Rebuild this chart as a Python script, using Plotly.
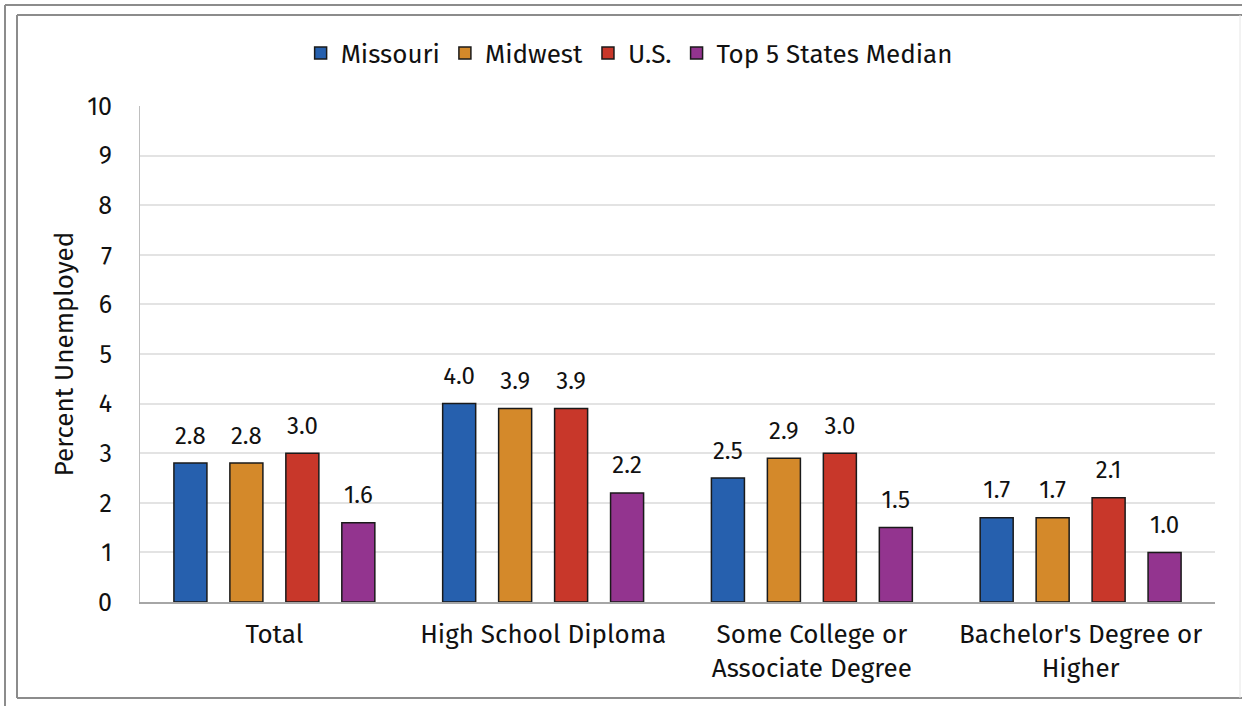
import plotly.graph_objects as go

categories = ["Total", "High School Diploma", "Some College or<br>Associate Degree", "Bachelor's Degree or<br>Higher"]
series_names = ["Missouri", "Midwest", "U.S.", "Top 5 States Median"]
missouri = [2.8, 4.0, 2.5, 1.7]
midwest = [2.8, 3.9, 2.9, 1.7]
us = [3.0, 3.9, 3.0, 2.1]
top5 = [1.6, 2.2, 1.5, 1.0]
colors = ["#2660AE", "#D4892A", "#C8372A", "#93348F"]
y_ticks = list(range(0, 11))

W, H = 1242, 706
L, R, T, B = 140, 27, 106, 104
pw, ph = W - L - R, H - T - B

FONT = "Fira Sans, Noto Sans, sans-serif"
TXT = "#111111"

fig = go.Figure()
all_vals = [missouri, midwest, us, top5]
for i, (name, vals, col) in enumerate(zip(series_names, all_vals, colors)):
    fig.add_trace(go.Bar(
        x=categories, y=vals, name=name, offsetgroup=str(i),
        marker=dict(color=col, line=dict(color="#1a1a1a", width=1.5)),
    ))
for i, vals in enumerate(all_vals):
    fig.add_trace(go.Scatter(
        x=categories, y=vals, mode="markers+text", offsetgroup=str(i),
        marker=dict(size=20, color="rgba(0,0,0,0)"),
        text=[f"{v:.1f}" for v in vals], textposition="top center",
        textfont=dict(size=24, color=TXT, family=FONT),
        showlegend=False, hoverinfo="skip", cliponaxis=False,
    ))

def px_x(p):
    return (p - L) / pw

def px_y(p):
    return (H - B - p) / ph

shapes = []
line_col = "#8c8c8c"
shapes.append(dict(type="line", xref="paper", yref="paper", x0=px_x(5), x1=px_x(5), y0=px_y(5), y1=px_y(706), line=dict(color=line_col, width=2)))
shapes.append(dict(type="line", xref="paper", yref="paper", x0=px_x(5), x1=px_x(1242), y0=px_y(5), y1=px_y(5), line=dict(color=line_col, width=2)))
shapes.append(dict(type="line", xref="paper", yref="paper", x0=px_x(17), x1=px_x(17), y0=px_y(15), y1=px_y(698), line=dict(color=line_col, width=2)))
shapes.append(dict(type="line", xref="paper", yref="paper", x0=px_x(17), x1=px_x(1242), y0=px_y(15), y1=px_y(15), line=dict(color=line_col, width=2)))
shapes.append(dict(type="line", xref="paper", yref="paper", x0=px_x(17), x1=px_x(1242), y0=px_y(698), y1=px_y(698), line=dict(color=line_col, width=2)))
shapes.append(dict(type="line", xref="paper", yref="paper", x0=px_x(1240), x1=px_x(1240), y0=px_y(15), y1=px_y(698), line=dict(color="#e6e6e6", width=1)))

fig.update_layout(
    width=W, height=H,
    margin=dict(l=L, r=R, t=T, b=B),
    paper_bgcolor="white", plot_bgcolor="white",
    barmode="group", bargap=0.167, bargroupgap=0.41,
    scattermode="group", scattergap=0.167,
    font=dict(family=FONT, color=TXT),
    legend=dict(orientation="h", x=0.455, xanchor="center", y=px_y(53), yanchor="middle",
                font=dict(size=26, family=FONT, color=TXT), itemwidth=30,
                traceorder="normal"),
    xaxis=dict(showline=True, linecolor="#a6a6a6", linewidth=1.5, ticks="",
               ticklabelstandoff=8,
               tickfont=dict(size=26, family=FONT, color=TXT)),
    yaxis=dict(range=[0, 10], tickvals=y_ticks, showgrid=True, gridcolor="#e3e3e3", gridwidth=1.5,
               showline=True, linecolor="#bfbfbf", linewidth=1, zeroline=False,
               ticks="", ticklabelstandoff=22,
               tickfont=dict(size=25, family=FONT, color=TXT),
               title=dict(text="Percent Unemployed", font=dict(size=26, family=FONT, color=TXT), standoff=6)),
    shapes=shapes,
)

fig.write_html("out.html", config={"displayModeBar": False},
               post_script="document.body.style.margin='0px';document.body.style.overflow='hidden';")
